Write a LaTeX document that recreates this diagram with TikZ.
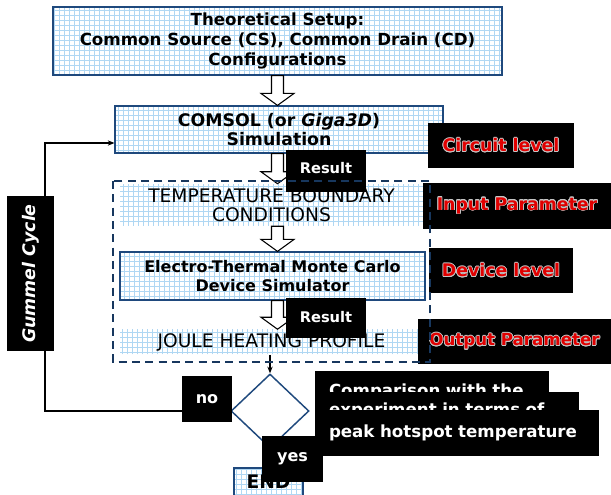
\documentclass[tikz,border=0pt]{standalone}
\usepackage{fontspec}
\setmainfont{DejaVu Sans}
\usepackage{contour}
\usetikzlibrary{shapes.geometric,arrows.meta,calc}
\definecolor{boxblue}{RGB}{31,73,125}
\definecolor{dashblue}{RGB}{23,55,94}
\definecolor{gridblue}{RGB}{175,215,243}
\definecolor{labelred}{RGB}{225,0,0}
\contourlength{0.5pt}

\tikzset{
  gridfill/.style={fill=white, path picture={
    \draw[gridblue, line width=0.4pt, step=3.75pt]
      (path picture bounding box.south west) grid (path picture bounding box.north east);}},
  stagebox/.style={draw=boxblue, line width=0.9pt, gridfill, align=center, inner sep=0},
  gridarea/.style={gridfill, align=center, inner sep=0},
  tagbox/.style={fill=black, inner sep=0, align=center, text=white, font=\bfseries},
  redtag/.style={tagbox, text=labelred, font=\bfseries\fontsize{13}{15}\selectfont},
  notebox/.style={tagbox, align=left, inner xsep=10.5pt, font=\bfseries\fontsize{12.5}{14}\selectfont},
  hollow/.style={draw=black, line width=0.8pt, fill=white},
  flowline/.style={line width=0.9pt, -{Stealth[length=5pt,width=4pt]}}
}
\newcommand\hollowarrow[2]{%
  \draw[hollow] let \p1=(#1), \p2=(#2), \p3=(top.south) in
    (\x3-4.5pt,\y1) -- (\x3-4.5pt,\y2+9pt) -- (\x3-12.4pt,\y2+9pt) -- (\x3,\y2)
    -- (\x3+12.4pt,\y2+9pt) -- (\x3+4.5pt,\y2+9pt) -- (\x3+4.5pt,\y1) -- cycle;}
\newcommand\redlabel[1]{\contour{gray!45}{#1}}

\begin{document}
\begin{tikzpicture}[x=0.75pt, y=-0.75pt]
  \path[use as bounding box, fill=white] (0,0) rectangle (611,495);

  % flow boxes
  \node[stagebox, minimum width=336.75pt, minimum height=51pt,
        font=\bfseries\fontsize{12.5}{15}\selectfont] (top) at (277.5,41)
        {Theoretical Setup:\\Common Source (CS), Common Drain (CD)\\Configurations};
  \node[stagebox, minimum width=246pt, minimum height=35.25pt,
        font=\bfseries\fontsize{13}{14.5}\selectfont] (comsol) at (279,129.5)
        {COMSOL (or \textit{Giga3D})\\Simulation};
  \node[gridarea, minimum width=227.25pt, minimum height=31.5pt,
        font=\fontsize{14}{14.5}\selectfont] (temp) at (271.5,205)
        {TEMPERATURE BOUNDARY\\CONDITIONS};
  \node[stagebox, minimum width=228.75pt, minimum height=36pt,
        font=\bfseries\fontsize{12}{14.5}\selectfont] (mc) at (272.5,276)
        {Electro-Thermal Monte Carlo\\Device Simulator};
  \node[gridarea, minimum width=227.25pt, minimum height=18.75pt,
        font=\fontsize{14}{14.5}\selectfont] (joule) at (271.5,342)
        {JOULE HEATING PROFILE};
  \node[stagebox, minimum width=51.75pt, minimum height=21pt,
        font=\bfseries\fontsize{14}{15}\selectfont] (end) at (268.5,482) {END};
  \node[diamond, draw=boxblue, line width=1.1pt, fill=white, inner sep=0,
        minimum width=58.5pt, minimum height=55.5pt] (dia) at (270,411) {};

  \hollowarrow{top.south}{comsol.north}
  \hollowarrow{comsol.south}{temp.north}
  \hollowarrow{temp.south}{mc.north}
  \hollowarrow{mc.south}{joule.north}

  \coordinate (fb) at (45,143);
  \draw[flowline] (joule.south -| dia.north) -- (dia.north);
  \draw[flowline] (dia.west) -| (fb) -- (fb -| comsol.west);

  % black tags
  \node[redtag, minimum width=109.5pt, minimum height=33.75pt] (circuit) at (501,145.5) {\redlabel{Circuit level}};
  \node[redtag, minimum width=141pt, minimum height=34.5pt] (input) at (517,206) {\redlabel{Input Parameter}};
  \node[redtag, minimum width=108pt, minimum height=33.75pt] (device) at (501,270.5) {\redlabel{Device level}};
  \node[redtag, minimum width=144.75pt, minimum height=33.75pt, font=\bfseries\fontsize{12.5}{15}\selectfont] (output) at (514.5,341.5) {\redlabel{Output Parameter}};
  \node[tagbox, minimum width=60pt, minimum height=31.5pt, font=\bfseries\fontsize{11}{12}\selectfont] (res1) at (326,171) {\raisebox{4pt}{Result}};
  \node[tagbox, minimum width=60pt, minimum height=30pt, font=\bfseries\fontsize{11}{12}\selectfont] (res2) at (326,318) {\raisebox{2pt}{Result}};
  \node[tagbox, minimum width=35.25pt, minimum height=116.25pt, font=\bfseries\itshape\fontsize{13}{15}\selectfont] (gummel) at (30.5,273.5) {\rotatebox{90}{Gummel Cycle}};
  \node[notebox, text width=154.5pt, minimum height=30.75pt] (cmpa) at (432,391.5) {Comparison with the};
  \node[notebox, text width=177pt, minimum height=28.5pt] (cmpb) at (447,411) {experiment in terms of};
  \node[notebox, text width=192pt, minimum height=34.5pt] (cmpc) at (457,433) {peak hotspot temperature};
  \node[tagbox, minimum width=37.5pt, minimum height=34.5pt, font=\bfseries\fontsize{12}{14}\selectfont] (no) at (207,399) {no};
  \node[tagbox, minimum width=45.75pt, minimum height=34.5pt, font=\bfseries\fontsize{12}{14}\selectfont] (yes) at (292.5,459) {yes};

  \draw[dashblue, line width=1.9pt, dash pattern=on 6pt off 4pt] (113,181) rectangle (430,362);
\end{tikzpicture}
\end{document}
